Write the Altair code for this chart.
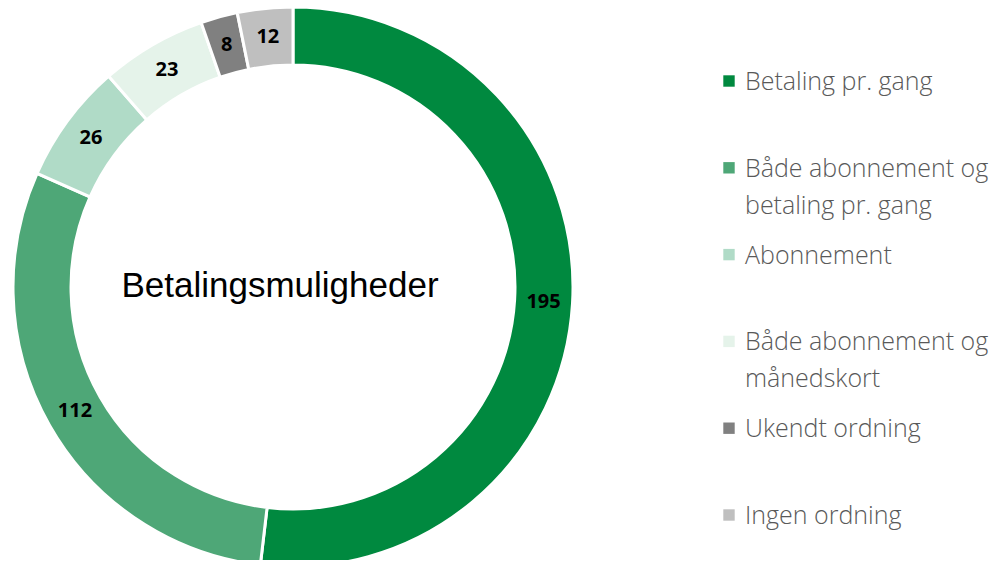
import altair as alt
import pandas as pd

categories = ["Betaling pr. gang", "Både abonnement og\nbetaling pr. gang", "Abonnement",
              "Både abonnement og\nmånedskort", "Ukendt ordning", "Ingen ordning"]
values = [195, 112, 26, 23, 8, 12]
colors = ["#00893F", "#4EA777", "#B0DBC7", "#E5F3EA", "#808080", "#BFBFBF"]
center_title = "Betalingsmuligheder"

df = pd.DataFrame({"cat": categories, "value": values, "order": list(range(len(values)))})

color_scale = alt.Scale(domain=categories, range=colors)

base = alt.Chart(df)

arcs = base.mark_arc(radius=280, radius2=222, stroke="white", strokeWidth=3).encode(
    theta=alt.Theta("value:Q", stack=True),
    order=alt.Order("order:Q"),
    color=alt.Color("cat:N", scale=color_scale, legend=None),
    x=alt.value(285),
    y=alt.value(279),
)

labels = base.mark_text(radius=251, font="Open Sans", fontWeight="bold", fontSize=20,
                        color="black", align="center", baseline="middle").encode(
    theta=alt.Theta("value:Q", stack=True),
    order=alt.Order("order:Q"),
    text=alt.Text("value:Q"),
    x=alt.value(285),
    y=alt.value(279),
)

title_df = pd.DataFrame({"t": [center_title]})
title = alt.Chart(title_df).mark_text(font="Liberation Sans", fontSize=35, color="black",
                                      align="center", baseline="alphabetic").encode(
    text="t:N", x=alt.value(272), y=alt.value(289)
)

ysc = alt.Scale(type="point", domain=categories, range=[73, 507], padding=0)

leg_sq = base.mark_square(size=130, opacity=1).encode(
    y=alt.Y("cat:N", scale=ysc, axis=None),
    x=alt.value(721),
    color=alt.Color("cat:N", scale=color_scale, legend=None),
)

leg_txt = base.mark_text(font="Open Sans", fontWeight=300, fontSize=25, color="#595959",
                         align="left", baseline="alphabetic", lineBreak="\n",
                         lineHeight=37, dy=9).encode(
    y=alt.Y("cat:N", scale=ysc, axis=None),
    x=alt.value(737),
    text="cat:N",
)

chart = alt.layer(arcs, labels, title, leg_sq, leg_txt).properties(
    width=985, height=552, padding=0,
    autosize=alt.AutoSizeParams(type="none"),
).configure_view(stroke=None)

chart.save("out.html", embed_options={"renderer": "svg", "actions": False})
